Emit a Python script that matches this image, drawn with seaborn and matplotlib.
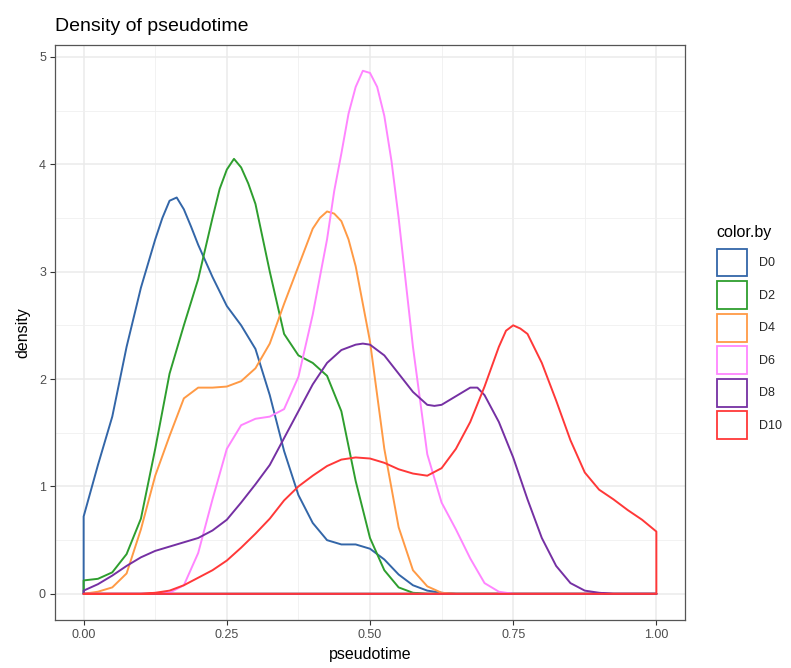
import numpy as np
import pandas as pd
import seaborn as sns
import matplotlib
matplotlib.use("Agg")
import matplotlib.pyplot as plt
from matplotlib.patches import Patch
from matplotlib.ticker import MultipleLocator

groups = ["D0", "D2", "D4", "D6", "D8", "D10"]
colors = ["#3366A8", "#2E9E2E", "#FF9A45", "#FF85FF", "#7530A3", "#FF3838"]

x_grid = [round(i * 0.025, 4) for i in range(41)]

d0 = [0.72, 1.2, 1.65, 2.3, 2.85, 3.3, 3.66, 3.58, 3.25, 2.95, 2.68, 2.5, 2.28,
      1.85, 1.33, 0.92, 0.66, 0.5, 0.46, 0.46, 0.42, 0.32, 0.18, 0.08, 0.03,
      0.01, 0, 0, 0, 0, 0, 0, 0, 0, 0, 0, 0, 0, 0, 0, 0]
d0_extra_x = [0.1375, 0.1625, 0.1875]
d0_extra_y = [3.5, 3.69, 3.42]

d2 = [0.125, 0.14, 0.2, 0.37, 0.7, 1.35, 2.05, 2.5, 2.93, 3.5, 3.95, 3.97, 3.63,
      3.0, 2.42, 2.22, 2.15, 2.03, 1.7, 1.05, 0.52, 0.22, 0.06, 0.01, 0,
      0, 0, 0, 0, 0, 0, 0, 0, 0, 0, 0, 0, 0, 0, 0, 0]
d2_extra_x = [0.2375, 0.2625, 0.2875]
d2_extra_y = [3.77, 4.05, 3.82]

d4 = [0, 0.02, 0.06, 0.19, 0.6, 1.1, 1.47, 1.82, 1.92, 1.92, 1.93, 1.98, 2.1,
      2.33, 2.7, 3.05, 3.4, 3.56, 3.47, 3.05, 2.35, 1.35, 0.62, 0.22, 0.07,
      0.01, 0, 0, 0, 0, 0, 0, 0, 0, 0, 0, 0, 0, 0, 0, 0]
d4_extra_x = [0.4125, 0.4375, 0.4625]
d4_extra_y = [3.5, 3.54, 3.3]

d6 = [0, 0, 0, 0, 0, 0, 0.01, 0.08, 0.38, 0.88, 1.35, 1.57, 1.63,
      1.65, 1.72, 2.02, 2.6, 3.3, 4.1, 4.72, 4.85, 4.45, 3.5, 2.3, 1.3,
      0.85, 0.6, 0.33, 0.1, 0.02, 0, 0, 0, 0, 0, 0, 0, 0, 0, 0, 0]
d6_extra_x = [0.4375, 0.4625, 0.4875, 0.5125, 0.5375, 0.5625]
d6_extra_y = [3.75, 4.47, 4.87, 4.72, 4.03, 2.9]

d8 = [0.03, 0.09, 0.17, 0.26, 0.34, 0.4, 0.44, 0.48, 0.52, 0.59, 0.69, 0.85, 1.02,
      1.2, 1.45, 1.7, 1.95, 2.15, 2.27, 2.32, 2.32, 2.22, 2.05, 1.88, 1.76,
      1.76, 1.84, 1.92, 1.85, 1.6, 1.27, 0.88, 0.52, 0.26, 0.1, 0.03, 0.01, 0, 0, 0, 0]
d8_extra_x = [0.4875, 0.6125, 0.6875]
d8_extra_y = [2.33, 1.75, 1.92]

d10 = [0, 0, 0, 0, 0, 0.01, 0.03, 0.08, 0.15, 0.22, 0.31, 0.43, 0.56,
       0.7, 0.87, 1.0, 1.1, 1.19, 1.25, 1.27, 1.26, 1.22, 1.16, 1.12, 1.1,
       1.17, 1.35, 1.6, 1.93, 2.3, 2.5, 2.42, 2.15, 1.8, 1.43, 1.13, 0.97,
       0.88, 0.78, 0.69, 0.58]
d10_extra_x = [0.7375, 0.7625]
d10_extra_y = [2.45, 2.47]

series = [(d0, d0_extra_x, d0_extra_y), (d2, d2_extra_x, d2_extra_y),
          (d4, d4_extra_x, d4_extra_y), (d6, d6_extra_x, d6_extra_y),
          (d8, d8_extra_x, d8_extra_y), (d10, d10_extra_x, d10_extra_y)]

rows = []
for g, (ys, ex, ey) in zip(groups, series):
    pts = sorted(list(zip(x_grid, ys)) + list(zip(ex, ey)))
    xs = [0.0] + [p[0] for p in pts] + [1.0, 0.0]
    yy = [0.0] + [p[1] for p in pts] + [0.0, 0.0]
    for a, b in zip(xs, yy):
        rows.append({"pseudotime": a, "density": b, "color.by": g})
df = pd.DataFrame(rows)

sns.set_theme(style="white")
plt.rcParams["font.family"] = ["Liberation Sans", "DejaVu Sans"]

fig = plt.figure(figsize=(7.91, 6.68), dpi=100)
ax = fig.add_axes([55 / 791, 1 - 620 / 668, 630 / 791, 575 / 668])

sns.lineplot(data=df, x="pseudotime", y="density", hue="color.by",
             hue_order=groups, palette=colors, sort=False, estimator=None,
             units="color.by", linewidth=1.4, legend=False, ax=ax,
             solid_joinstyle="round")

ax.set_xlim(-0.05, 1.05)
ax.set_ylim(-0.2435, 5.11)
ax.xaxis.set_minor_locator(MultipleLocator(0.125))
ax.yaxis.set_minor_locator(MultipleLocator(0.5))
ax.set_xticks([0, 0.25, 0.5, 0.75, 1.0])
ax.set_xticklabels(["0.00", "0.25", "0.50", "0.75", "1.00"])
ax.set_yticks([0, 1, 2, 3, 4, 5])
ax.set_yticklabels(["0", "1", "2", "3", "4", "5"])
ax.grid(True, which="major", color="#EBEBEB", linewidth=1.1)
ax.grid(True, which="minor", color="#F0F0F0", linewidth=0.6)
ax.set_axisbelow(True)
for s in ax.spines.values():
    s.set_color("#555555")
    s.set_linewidth(0.9)
ax.tick_params(axis="both", which="major", length=3.5, width=0.8,
               color="#333333", labelcolor="#4D4D4D", labelsize=9, pad=3,
               bottom=True, left=True)
ax.tick_params(axis="both", which="minor", length=0)
ax.set_xlabel("pseudotime", fontsize=11.5, color="black", labelpad=4)
ax.set_ylabel("density", fontsize=11.5, color="black", labelpad=6)
ax.set_title("Density of pseudotime", loc="left", fontsize=14, color="black", pad=10)

handles = [Patch(facecolor="white", edgecolor=c, linewidth=1.3, label=g)
           for g, c in zip(groups, colors)]
fig.text(716 / 791, 1 - 232 / 668, "color.by", fontsize=11.5, color="black",
         ha="left", va="center")
leg = fig.legend(handles=handles, loc="upper left",
                 bbox_to_anchor=(714 / 791, 1 - 246 / 668), frameon=False,
                 fontsize=9, handlelength=2.45,
                 handleheight=3.05, labelspacing=0.38, handletextpad=0.95,
                 borderaxespad=0, borderpad=0.2)

fig.savefig("out.png", dpi=100)
